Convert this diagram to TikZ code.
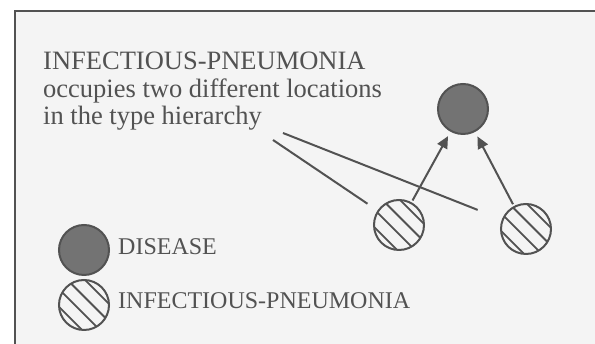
\documentclass[tikz,border=0pt]{standalone}
\usepackage{fontspec}
\setmainfont{Liberation Serif}
\usetikzlibrary{arrows.meta}

\definecolor{ink}{gray}{0.32}
\definecolor{diseasefill}{gray}{0.45}
\definecolor{paper}{gray}{0.955}

\begin{document}
\begin{tikzpicture}[x=1pt, y=1pt,
    >={Triangle[length=12pt, width=11pt]},
    disease/.style={circle, draw=ink, fill=diseasefill, line width=2pt,
        minimum size=2*\R, inner sep=0pt},
    hatched/.style={circle, draw=ink, line width=2pt, minimum size=2*\R,
        inner sep=0pt, path picture={
            \foreach \o in {-19,-6.5,6,18.5}
                \draw[ink, line width=1.8pt]
                    ([shift={(45:\o pt)}]path picture bounding box.center)
                    +(-45:30pt) -- +(135:30pt);
        }},
    bigtext/.style={anchor=base west, inner sep=0pt, text=ink,
        font=\fontsize{26.5}{27.5}\selectfont},
    legtext/.style={anchor=base west, inner sep=0pt, text=ink,
        font=\fontsize{24}{26}\selectfont},
    ptr/.style={draw=ink, line width=2pt},
    isa/.style={->, draw=ink, fill=ink, line width=2pt}]

    % Polomer kruhu
    \def\R{25pt}

    % 1. Ramecek
    \useasboundingbox (0,0) rectangle (595,344);
    \fill[white] (0,0) rectangle (595,344);
    \fill[paper] (15,-5) rectangle (600,333);
    \draw[ink, line width=2pt] (15,-5) |- (600,333);

    % 2. Text
    \node[bigtext] (title1) at (43,274) {INFECTIOUS-PNEUMONIA};
    \node[bigtext] (title2) at (43,246.5) {occupies two different locations};
    \node[bigtext] (title3) at (43,219) {in the type hierarchy};

    % 3. Kruhy
    \node[disease] (disease) at (463,235) {};
    \node[hatched] (ip1) at (399,119) {};
    \node[hatched] (ip2) at (526,115) {};

    % 4. Spojnice
    \coordinate (ptrA) at (273,204);
    \coordinate (ptrB) at (283,211);
    \draw[ptr, shorten >=12pt] (ptrA) -- (ip1);
    \draw[ptr, shorten >=26pt] (ptrB) -- (ip2);
    \draw[isa, shorten >=5pt, shorten <=2pt] (ip1) -- (disease);
    \draw[isa, shorten >=5pt, shorten <=2pt] (ip2) -- (disease);

    % 5. Legenda
    \node[disease] (legdisease) at (84,94) {};
    \node[hatched] (legip) at (84,39) {};
    \node[legtext] (legdiseasetext) at (118,89) {DISEASE};
    \node[legtext] (legiptext) at (118,35) {INFECTIOUS-PNEUMONIA};

\end{tikzpicture}
\end{document}
